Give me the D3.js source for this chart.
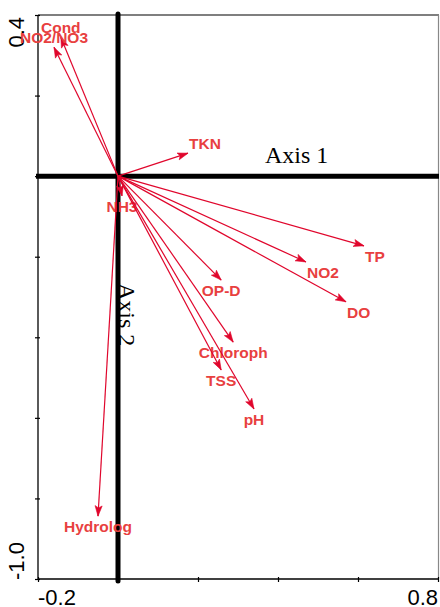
<!DOCTYPE html>
<html>
<head>
<meta charset="utf-8">
<script src="https://cdn.jsdelivr.net/npm/d3@7"></script>
<style>
html,body{margin:0;padding:0;background:#fff;}
svg{display:block;}
</style>
</head>
<body>
<svg id="chart" width="440" height="607"></svg>
<script>
// ---- data ----
const variables = ["Cond","NO2/NO3","TKN","NH3","TP","NO2","DO","OP-D","Chloroph","TSS","pH","Hydrolog"];
const axis1Scores = [-0.143,-0.160,0.175,0.010,0.615,0.470,0.570,0.258,0.288,0.258,0.340,-0.050];
const axis2Scores = [0.345,0.320,0.057,-0.049,-0.173,-0.213,-0.312,-0.258,-0.412,-0.481,-0.578,-0.844];
const xTickValues = [-0.2,0,0.2,0.4,0.6,0.8];
const yTickValues = [-1.0,-0.8,-0.6,-0.4,-0.2,0,0.2,0.4];
const xTickLabels = ["-0.2","0.8"];
const yTickLabels = ["0.4","-1.0"];
const axisTitles = ["Axis 1","Axis 2"];

// ---- layout ----
const L = 38, R = 438, T = 15, B = 579;
const x = d3.scaleLinear().domain([-0.2, 0.8]).range([L, R]);
const y = d3.scaleLinear().domain([-1.0, 0.4]).range([B, T]);
const svg = d3.select("#chart");
const arrowCol = "#e0062c", labelCol = "#e8403f";

// frame: top & right grey
svg.append("line").attr("x1", L).attr("x2", R + 1).attr("y1", T).attr("y2", T)
  .attr("stroke", "#555").attr("stroke-width", 1.6);
svg.append("line").attr("x1", R + 0.5).attr("x2", R + 0.5).attr("y1", T).attr("y2", B)
  .attr("stroke", "#888").attr("stroke-width", 1.2);

// bottom axis
const gx = svg.append("g").attr("transform", `translate(0,${B})`)
  .call(d3.axisBottom(x).tickValues(xTickValues).tickSize(3).tickFormat(""));
gx.select(".domain").attr("stroke", "#000").attr("stroke-width", 1.3).attr("d", `M${L},0H${R}`);
gx.selectAll(".tick line").attr("y1", -2).attr("stroke-width", 1.2);
// left axis
const gy = svg.append("g").attr("transform", `translate(${L},0)`)
  .call(d3.axisLeft(y).tickValues(yTickValues).tickSize(3).tickFormat(""));
gy.select(".domain").attr("stroke", "#000").attr("stroke-width", 1.3).attr("d", `M0,${T}V${B}`);
gy.selectAll(".tick line").attr("x1", 2).attr("stroke-width", 1.2);

// tick labels (only ends)
svg.append("text").attr("x", x(-0.2)).attr("y", 605).attr("text-anchor", "start")
  .attr("font-family", "Liberation Sans, Arial, sans-serif").attr("font-size", 22).text(xTickLabels[0]);
svg.append("text").attr("x", x(0.8)).attr("y", 605).attr("text-anchor", "end")
  .attr("font-family", "Liberation Sans, Arial, sans-serif").attr("font-size", 22).text(xTickLabels[1]);
svg.append("text").attr("transform", `translate(24,${y(0.4) + 2}) rotate(-90)`).attr("text-anchor", "end")
  .attr("font-family", "Liberation Sans, Arial, sans-serif").attr("font-size", 22).text(yTickLabels[0]);
svg.append("text").attr("transform", `translate(24,${y(-1.0) + 1}) rotate(-90)`).attr("text-anchor", "start")
  .attr("font-family", "Liberation Sans, Arial, sans-serif").attr("font-size", 22).text(yTickLabels[1]);

// axis titles
svg.append("text").attr("x", 265).attr("y", 163)
  .attr("font-family", "Liberation Serif, Times New Roman, serif").attr("font-size", 24).text(axisTitles[0]);
svg.append("text").attr("transform", `translate(119,283) rotate(90)`)
  .attr("font-family", "Liberation Serif, Times New Roman, serif").attr("font-size", 24).text(axisTitles[1]);

// thick zero axes
svg.append("line").attr("x1", L - 2).attr("x2", R + 1).attr("y1", y(0)).attr("y2", y(0))
  .attr("stroke", "#000").attr("stroke-width", 5);
svg.append("line").attr("x1", x(0)).attr("x2", x(0)).attr("y1", T - 1).attr("y2", B + 2)
  .attr("stroke", "#000").attr("stroke-width", 5).attr("stroke-linecap", "round");

// arrows
const data = variables.map((v, i) => ({name: v, a1: axis1Scores[i], a2: axis2Scores[i]}));
const ox = x(0), oy = y(0);
const g = svg.append("g");
data.forEach(d => {
  const tx = x(d.a1), ty = y(d.a2);
  g.append("line").attr("x1", ox).attr("y1", oy).attr("x2", tx).attr("y2", ty)
    .attr("stroke", arrowCol).attr("stroke-width", 1.2);
  const ang = Math.atan2(ty - oy, tx - ox);
  const len = 11, spread = 0.33;
  const p1 = [tx - len * Math.cos(ang - spread), ty - len * Math.sin(ang - spread)];
  const p2 = [tx - len * Math.cos(ang + spread), ty - len * Math.sin(ang + spread)];
  const pm = [tx - len * 0.75 * Math.cos(ang), ty - len * 0.75 * Math.sin(ang)];
  g.append("path").attr("d", `M${tx},${ty}L${p1[0]},${p1[1]}L${pm[0]},${pm[1]}L${p2[0]},${p2[1]}Z`)
    .attr("fill", arrowCol).attr("stroke", arrowCol).attr("stroke-width", 0.6);
  // label placement rule
  const dx = tx - ox, dy = ty - oy;
  let anchor = "middle", lx = tx;
  if (Math.abs(dx) > Math.abs(dy)) { anchor = dx > 0 ? "start" : "end"; lx = tx + (dx > 0 ? 1 : -1); }
  const ly = dy > 0 ? ty + 16 : ty - 4.5;
  g.append("text").attr("x", lx).attr("y", ly).attr("text-anchor", anchor)
    .attr("font-family", "Liberation Sans, Arial, sans-serif").attr("font-weight", "bold")
    .attr("font-size", 15.5).attr("fill", labelCol).text(d.name);
});
</script>
</body>
</html>
